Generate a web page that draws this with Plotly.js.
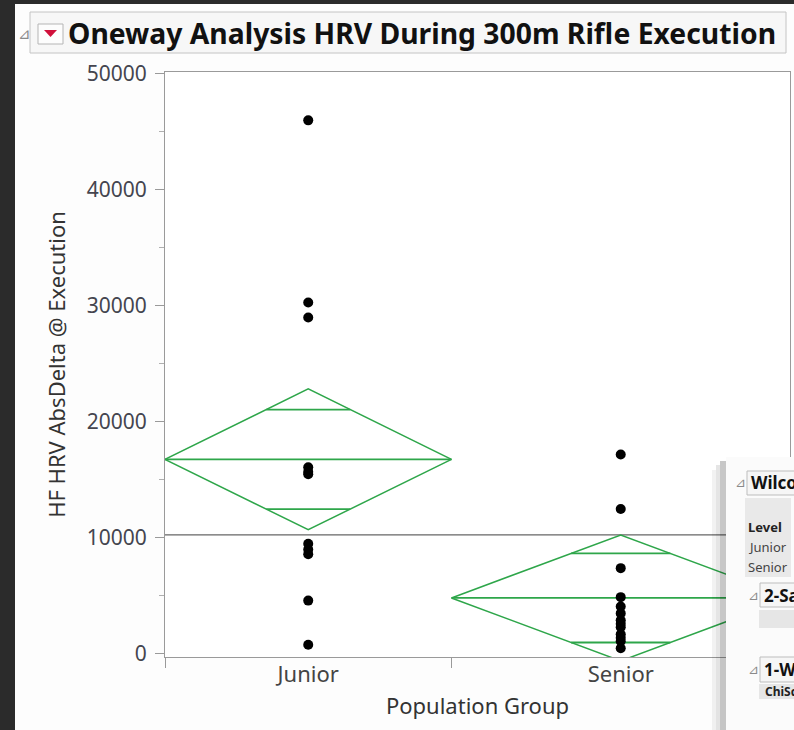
<!DOCTYPE html>
<html><head><meta charset="utf-8">
<script src="https://cdn.plot.ly/plotly-3.0.1.min.js"></script>
<style>html,body{margin:0;padding:0;background:#2b2b2b;overflow:hidden;} #chart{width:794px;height:730px;}</style>
</head><body><div id="chart"></div>
<script>
// ---- data ----
const groups = ['Junior', 'Senior'];
const juniorValues = [46000, 30300, 29000, 16100, 15700, 15500, 9500, 9000, 8600, 4600, 800];
const seniorValues = [17200, 12500, 7400, 4900, 4100, 3500, 2900, 2600, 2300, 1700, 1400, 1100, 500];
const groupMeans = [16780, 4830];
const ciUpper = [22850, 10260];
const ciLower = [10710, -600];
const grandMean = 10260;
const yTickVals = [0, 10000, 20000, 30000, 40000, 50000];
const yTickText = ['0', '10000', '20000', '30000', '40000', '50000'];

// ---- geometry helpers (page pixels -> paper) ----
const W = 794, H = 730, L = 165, R = 4, T = 72, B = 73;
const pw = W - L - R, ph = H - T - B;
const px = x => (x - L) / pw;
const py = y => 1 - (y - T) / ph;

const values = [juniorValues, seniorValues];
const counts = values.map(v => v.length);
const edges = [0];
counts.forEach(n => edges.push(edges[edges.length - 1] + n));
const centers = counts.map((n, i) => (edges[i] + edges[i + 1]) / 2);
const total = edges[edges.length - 1];

const green = '#2ea64a';
const traces = [];

// grand mean line
traces.push({x: [0, total], y: [grandMean, grandMean], mode: 'lines', line: {color: '#666', width: 1.2}, hoverinfo: 'skip', showlegend: false});

// mean diamonds
groups.forEach((g, i) => {
  const l = edges[i], r = edges[i + 1], c = centers[i], m = groupMeans[i];
  const up = ciUpper[i], lo = ciLower[i];
  traces.push({x: [l, c, r, c, l], y: [m, up, m, lo, m], mode: 'lines', line: {color: green, width: 1.5}, hoverinfo: 'skip', showlegend: false});
  traces.push({x: [l, r], y: [m, m], mode: 'lines', line: {color: green, width: 1.8}, hoverinfo: 'skip', showlegend: false});
  const k = 1 / Math.SQRT2;
  const half = (r - l) / 2;
  const yu = m + (up - m) * k, yl = m - (m - lo) * k;
  const w = half * (1 - k);
  traces.push({x: [c - w, c + w], y: [yu, yu], mode: 'lines', line: {color: green, width: 1.8}, hoverinfo: 'skip', showlegend: false});
  traces.push({x: [c - w, c + w], y: [yl, yl], mode: 'lines', line: {color: green, width: 1.8}, hoverinfo: 'skip', showlegend: false});
});

// points
groups.forEach((g, i) => {
  traces.push({x: values[i].map(() => centers[i]), y: values[i], mode: 'markers', name: g,
    marker: {color: '#000', size: 10}, showlegend: false, cliponaxis: false});
});

// dummy trace on xaxis2 for category labels
traces.push({x: centers, y: [null, null], xaxis: 'x2', mode: 'markers', showlegend: false, hoverinfo: 'skip'});

const font = 'Noto Sans, Open Sans, sans-serif';
const shapes = [
  // dark background edges
  {type: 'rect', xref: 'paper', yref: 'paper', x0: px(-5), x1: px(15), y0: py(-5), y1: py(735), fillcolor: '#2b2b2b', line: {width: 0}, layer: 'below'},
  {type: 'rect', xref: 'paper', yref: 'paper', x0: px(-5), x1: px(800), y0: py(-5), y1: py(4), fillcolor: '#2b2b2b', line: {width: 0}, layer: 'below'},
  // title bar
  {type: 'rect', xref: 'paper', yref: 'paper', x0: px(30), x1: px(786), y0: py(12), y1: py(53), fillcolor: '#f7f7f7', line: {color: '#c4c4c4', width: 1}, layer: 'below'},
  // red menu button
  {type: 'rect', xref: 'paper', yref: 'paper', x0: px(38), x1: px(63), y0: py(24), y1: py(44), fillcolor: '#fdfdfd', line: {color: '#b5b5b5', width: 1}, layer: 'below'},
  {type: 'path', xref: 'paper', yref: 'paper', path: `M ${px(44)} ${py(30)} L ${px(57)} ${py(30)} L ${px(50.5)} ${py(37)} Z`, fillcolor: '#d0103a', line: {width: 0}, layer: 'below'},
  // overlapping report window: shadow
  {type: 'rect', xref: 'paper', yref: 'paper', x0: px(712), x1: px(716), y0: py(470), y1: py(735), fillcolor: 'rgba(0,0,0,0.05)', line: {width: 0}, layer: 'above'},
  {type: 'rect', xref: 'paper', yref: 'paper', x0: px(716), x1: px(720), y0: py(465), y1: py(735), fillcolor: 'rgba(0,0,0,0.10)', line: {width: 0}, layer: 'above'},
  {type: 'rect', xref: 'paper', yref: 'paper', x0: px(720), x1: px(726), y0: py(461), y1: py(735), fillcolor: 'rgba(0,0,0,0.22)', line: {width: 0}, layer: 'above'},
  {type: 'rect', xref: 'paper', yref: 'paper', x0: px(726), x1: px(800), y0: py(457), y1: py(735), fillcolor: '#fbfbfb', line: {width: 0}, layer: 'above'},
  // report boxes
  {type: 'rect', xref: 'paper', yref: 'paper', x0: px(747), x1: px(800), y0: py(471), y1: py(495), fillcolor: '#f6f6f6', line: {color: '#bdbdbd', width: 1}, layer: 'above'},
  {type: 'rect', xref: 'paper', yref: 'paper', x0: px(745), x1: px(791), y0: py(498), y1: py(577), fillcolor: '#e9e9e9', line: {width: 0}, layer: 'above'},
  {type: 'rect', xref: 'paper', yref: 'paper', x0: px(760), x1: px(800), y0: py(583), y1: py(607), fillcolor: '#f6f6f6', line: {color: '#bdbdbd', width: 1}, layer: 'above'},
  {type: 'rect', xref: 'paper', yref: 'paper', x0: px(759), x1: px(800), y0: py(610), y1: py(628), fillcolor: '#e6e6e6', line: {width: 0}, layer: 'above'},
  {type: 'rect', xref: 'paper', yref: 'paper', x0: px(760), x1: px(800), y0: py(657), y1: py(682), fillcolor: '#f6f6f6', line: {color: '#bdbdbd', width: 1}, layer: 'above'},
  {type: 'rect', xref: 'paper', yref: 'paper', x0: px(759), x1: px(800), y0: py(684), y1: py(699), fillcolor: '#e6e6e6', line: {width: 0}, layer: 'above'}
];

const ann = (x, y, text, size, color, bold, extra) => Object.assign({
  xref: 'paper', yref: 'paper', x: px(x), y: py(y), text: bold ? '<b>' + text + '</b>' : text,
  showarrow: false, xanchor: 'left', yanchor: 'middle', font: {family: font, size: size, color: color}
}, extra || {});

const annotations = [
  ann(16, 33, '⊿', 15, '#8a8a8a', false),
  ann(66, 33, 'Oneway Analysis HRV During 300m Rifle Execution', 28.3, '#111', true),
  ann(733, 482, '⊿', 13, '#8a8a8a', false),
  ann(749, 483, 'Wilcoxon / Kruskal-Wallis Tests (Rank Sums)', 17, '#111', true),
  ann(746, 527, 'Level', 13, '#222', true),
  ann(746, 547, 'Junior', 13, '#444', false),
  ann(746, 567, 'Senior', 13, '#444', false),
  ann(746, 595, '⊿', 13, '#8a8a8a', false),
  ann(762, 595, '2-Sample Test, Normal Approximation', 17, '#111', true),
  ann(746, 669, '⊿', 13, '#8a8a8a', false),
  ann(762, 669, '1-Way Test, ChiSquare Approximation', 17, '#111', true),
  ann(763, 691, 'ChiSquare', 12, '#222', true)
];

const layout = {
  width: W, height: H,
  margin: {l: L, r: R, t: T, b: B, pad: 0},
  paper_bgcolor: '#fdfdfd', plot_bgcolor: '#ffffff',
  font: {family: font, color: '#444'},
  showlegend: false,
  xaxis: {range: [0, total], tickvals: edges.slice(0, -1), ticktext: edges.slice(0, -1).map(() => ''),
    ticks: 'outside', ticklen: 10, tickcolor: '#9a9a9a', showticklabels: false,
    showgrid: false, zeroline: false, showline: true, linecolor: '#9a9a9a', linewidth: 1, mirror: true, fixedrange: true},
  xaxis2: {overlaying: 'x', side: 'bottom', range: [0, total], tickvals: centers, ticktext: groups,
    ticks: '', showline: false, showgrid: false, zeroline: false, ticklabelstandoff: 2,
    tickfont: {size: 22, color: '#444', family: font},
    title: {text: 'Population Group', font: {size: 22, color: '#333', family: font}, standoff: 11}},
  yaxis: {range: [-260, 50170], tickvals: yTickVals, ticktext: yTickText,
    ticks: 'outside', ticklen: 9, tickcolor: '#9a9a9a',
    minor: {dtick: 5000, tick0: 0, ticks: 'outside', ticklen: 5, tickcolor: '#b0b0b0', showgrid: false},
    tickfont: {size: 21, color: '#45454f', family: font}, ticklabelstandoff: 4,
    showgrid: false, zeroline: false, showline: true, linecolor: '#9a9a9a', linewidth: 1, mirror: true,
    title: {text: 'HF HRV AbsDelta @ Execution', font: {size: 22, color: '#333', family: font}, standoff: 15}},
  shapes: shapes,
  annotations: annotations
};

Plotly.newPlot('chart', traces, layout, {staticPlot: true, displayModeBar: false});
</script>
</body></html>
